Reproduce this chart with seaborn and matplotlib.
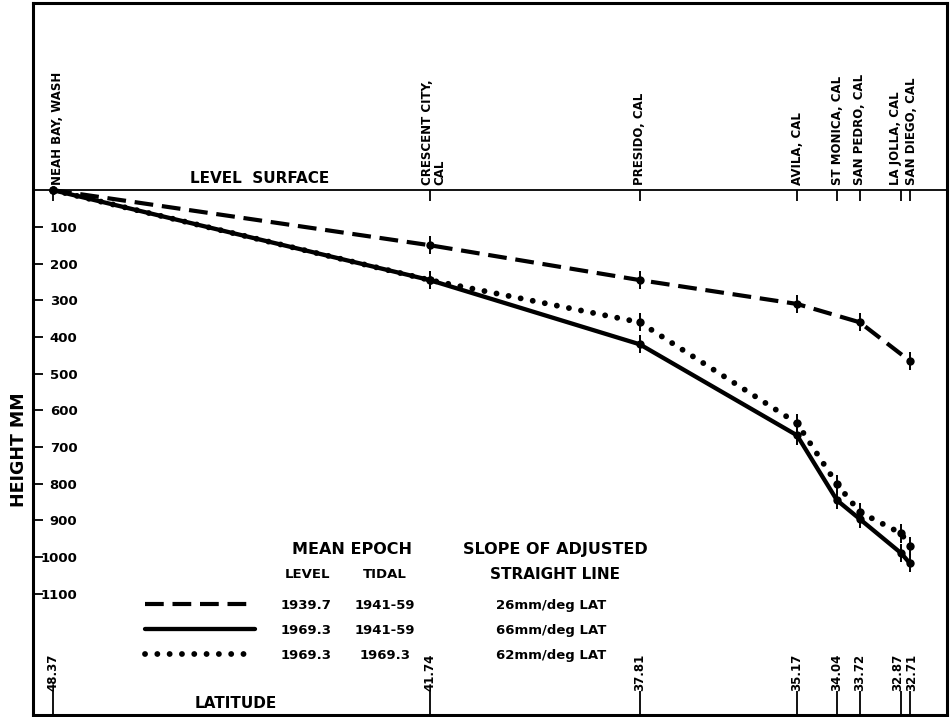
import pandas as pd
import matplotlib.pyplot as plt
import matplotlib.transforms as mtrans
import seaborn as sns
from matplotlib.lines import Line2D

# Estaciones de norte a sur
stations = ['NEAH BAY, WASH', 'CRESCENT CITY,\nCAL', 'PRESIDO, CAL', 'AVILA, CAL',
            'ST MONICA, CAL', 'SAN PEDRO, CAL', 'LA JOLLA, CAL', 'SAN DIEGO, CAL']
latitude = ['48.37', '41.74', '37.81', '35.17', '34.04', '33.72', '32.87', '32.71']
coast_km = [0, 829, 1291, 1637, 1725, 1775, 1866, 1885]   # posicion a lo largo de la costa

# Altura bajo la superficie de nivel (mm), None = sin dato
h_1939 = [0, 150, 245, 310, None, 360, None, 465]
h_1969 = [0, 245, 420, 668, 845, 896, 989, 1016]
h_1969_tidal = [0, 245, 360, 635, 801, 877, 935, 970]
err_mm = 25

series = ['1939.7 / 1941-59', '1969.3 / 1941-59', '1969.3 / 1969.3']
level_epoch = ['1939.7', '1969.3', '1969.3']
tidal_epoch = ['1941-59', '1941-59', '1969.3']
slopes = ['26mm/deg LAT', '66mm/deg LAT', '62mm/deg LAT']

rows = []
for s, vals in zip(series, [h_1939, h_1969, h_1969_tidal]):
    for st, km, v in zip(stations, coast_km, vals):
        if v is not None:
            rows.append({'serie': s, 'estacion': st, 'km': km, 'mm': v})
df = pd.DataFrame(rows)

sns.set_style('white', {'axes.edgecolor': 'black', 'text.color': 'black',
                        'axes.labelcolor': 'black', 'xtick.color': 'black',
                        'ytick.color': 'black'})
plt.rcParams['font.family'] = ['DejaVu Sans']
plt.rcParams['font.weight'] = 'bold'
plt.rcParams['axes.labelweight'] = 'bold'

estilos = {
    series[0]: dict(linewidth=3.0, linestyle=(0, (4.5, 2.1)), dash_capstyle='butt'),
    series[1]: dict(linewidth=3.1, linestyle='-'),
    series[2]: dict(linewidth=4.2, linestyle=(0, (0.01, 2.1)), dash_capstyle='round'),
}
capas = {series[0]: 3, series[1]: 3, series[2]: 2}

fig = plt.figure(figsize=(9.51, 7.17), dpi=100)
ax = fig.add_axes([33 / 951, 2 / 717, 914 / 951, 712 / 717])

for s in series:
    sub = df[df['serie'] == s]
    sns.lineplot(data=sub, x='km', y='mm', ax=ax, color='black', sort=False,
                 estimator=None, marker='o', markersize=6, markeredgewidth=0,
                 markerfacecolor='black', zorder=capas[s], **estilos[s])
    pts = sub[sub['mm'] > 0]
    ax.errorbar(pts['km'], pts['mm'], yerr=err_mm, fmt='none', ecolor='black',
                elinewidth=1.4, capsize=0, zorder=4)

# superficie de nivel y marcas de estacion
ax.axhline(0, color='black', lw=1.3)
ax.plot(coast_km, [0] * len(coast_km), ls='none', marker=3, ms=8, mew=1.3, color='black')

nudge = [3.5, 3, 0, 0, 0, 0, -4, 1.5]
for x, name, dx in zip(coast_km, stations, nudge):
    ax.annotate(name, xy=(x, 0), xytext=(dx, 3.5), textcoords='offset points',
                rotation=90, ha='center', va='bottom', multialignment='left',
                linespacing=0.95, fontsize=8.5, fontweight='bold')

ax.annotate('LEVEL  SURFACE', xy=(0.248, 0), xycoords=('axes fraction', 'data'),
            xytext=(0, 3), textcoords='offset points', ha='center', va='bottom',
            fontsize=11, fontweight='bold')

ax.set_xlim(-44, 1967)
ax.set_ylim(1430, -510)

ax.set_xticks(coast_km)
ax.set_xticklabels(latitude, rotation=90)
ax.tick_params(axis='x', direction='in', length=17, width=1.3, pad=-17.5,
               labelsize=8.5, bottom=True)
lat_nudge = [0, 0, 0, 0, 0, 0, -2.5, 1.5]
for lbl, dx in zip(ax.get_xticklabels(), lat_nudge):
    lbl.set_va('bottom')
    if dx:
        lbl.set_transform(lbl.get_transform() +
                          mtrans.ScaledTranslation(dx / 72, 0, fig.dpi_scale_trans))

ax.set_yticks(range(100, 1200, 100))
ax.tick_params(axis='y', direction='in', length=7, width=1.3, pad=-32,
               labelsize=9.5, left=True)

for sp in ax.spines.values():
    sp.set_linewidth(2.2)
    sp.set_color('black')

ax.set_xlabel('')
ax.set_ylabel('HEIGHT MM', fontsize=12.5, fontweight='bold')
ax.yaxis.set_label_coords(-0.006, 0.372)

ax.text(0.222, 0.006, 'LATITUDE', transform=ax.transAxes, ha='center', va='bottom',
        fontsize=11, fontweight='bold')

# leyenda tipo tabla
handles = [Line2D([], [], color='black', **estilos[s]) for s in series]
leg = ax.legend(handles, level_epoch, loc='upper left',
                bbox_to_anchor=((145 - 33) / 914, (715 - 599) / 712),
                frameon=False, borderpad=0, borderaxespad=0, handlelength=8.3,
                handletextpad=2.0, labelspacing=0.9,
                prop={'size': 9.5, 'weight': 'bold'})

ax.text(0.349, 0.233, 'MEAN EPOCH', transform=ax.transAxes, ha='center', va='center',
        fontsize=11.5, fontweight='bold')
ax.text(0.571, 0.233, 'SLOPE OF ADJUSTED', transform=ax.transAxes, ha='center',
        va='center', fontsize=11.5, fontweight='bold')
ax.text(0.300, 0.198, 'LEVEL', transform=ax.transAxes, ha='center', va='center',
        fontsize=9.5, fontweight='bold')
ax.text(0.385, 0.198, 'TIDAL', transform=ax.transAxes, ha='center', va='center',
        fontsize=9.5, fontweight='bold')
ax.text(0.571, 0.198, 'STRAIGHT LINE', transform=ax.transAxes, ha='center',
        va='center', fontsize=11, fontweight='bold')

fig.canvas.draw()
inv = ax.transAxes.inverted()
for t, tid, sl in zip(leg.get_texts(), tidal_epoch, slopes):
    bb = t.get_window_extent()
    y = inv.transform((0, (bb.y0 + bb.y1) / 2))[1]
    ax.text(0.385, y, tid, transform=ax.transAxes, ha='center', va='center',
            fontsize=9.5, fontweight='bold')
    ax.text(0.567, y, sl, transform=ax.transAxes, ha='center', va='center',
            fontsize=9.5, fontweight='bold')

fig.savefig('out.png', dpi=100)
